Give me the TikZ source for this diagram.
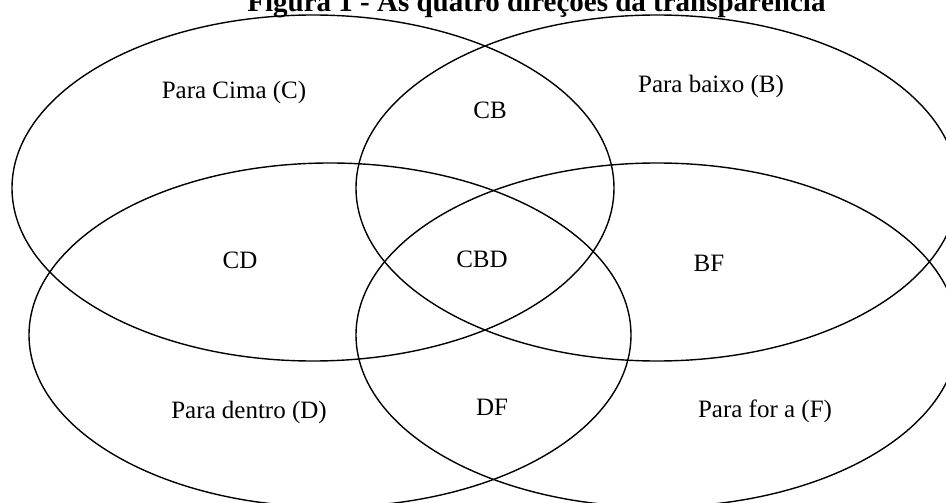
\documentclass[tikz,border=0pt]{standalone}
\usepackage{fontspec}
\setmainfont{Liberation Serif}
\tikzset{
  venn/.style={draw=black, line width=1.4pt},
  lbl/.style={font=\fontsize{25}{30}\selectfont, inner sep=0pt},
  ttl/.style={font=\fontsize{29}{34}\selectfont\bfseries, inner sep=0pt, anchor=base}
}
\begin{document}
\begin{tikzpicture}[x=1pt,y=-1pt]
\useasboundingbox (0,0) rectangle (946,503);
\clip (0,0) rectangle (946,503);
\node[ttl] (title) at (536.5,12) {Figura 1 - As quatro direções da transparência};
\draw[venn] (313,188) ellipse [x radius=301, y radius=173];
\draw[venn] (657,188) ellipse [x radius=301, y radius=173];
\draw[venn] (330,335) ellipse [x radius=301, y radius=172];
\draw[venn] (657,335) ellipse [x radius=301, y radius=172];
\node[lbl] (c) at (234,92) {Para Cima (C)};
\node[lbl] (cb) at (490,110) {CB};
\node[lbl] (b) at (711,86) {Para baixo (B)};
\node[lbl] (cd) at (240,260) {CD};
\node[lbl] (cbd) at (482,259) {CBD};
\node[lbl] (bf) at (709,263) {BF};
\node[lbl] (d) at (249,412) {Para dentro (D)};
\node[lbl] (df) at (492,407) {DF};
\node[lbl] (f) at (765,411) {Para for a (F)};
\end{tikzpicture}
\end{document}
